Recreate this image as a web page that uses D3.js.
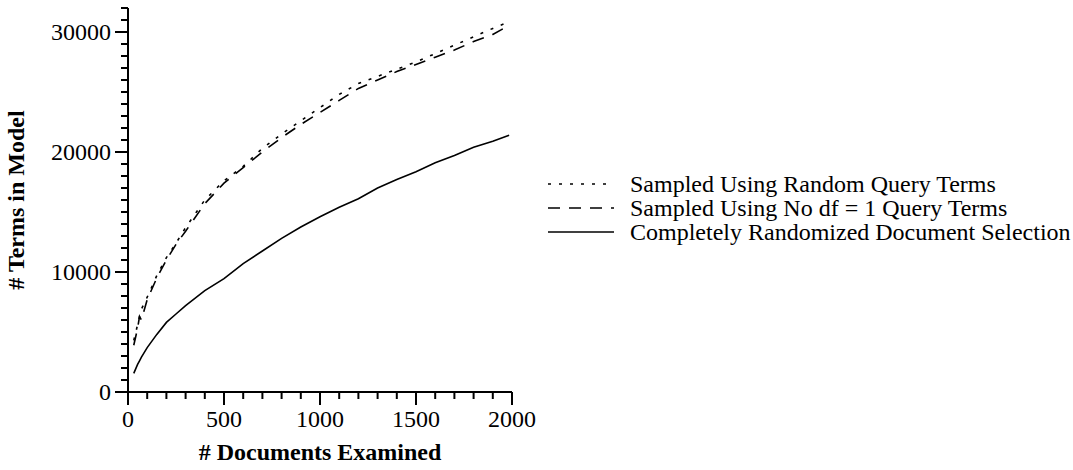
<!DOCTYPE html>
<html lang="en">
<head>
    <meta charset="utf-8">
    <title>Terms in model vs documents examined</title>
    <style>
        body {
            margin: 0;
            background: #fff;
        }

        svg text {
            font-family: "Liberation Serif", "Times New Roman", serif;
            fill: #000;
        }

        .tk {
            stroke: #000;
            stroke-width: 2px;
        }

        .series {
            fill: none;
            stroke: #000;
            stroke-width: 1.6px;
        }
    </style>
</head>
<body>
<div id="chart"></div>
<script src="https://d3js.org/d3.v7.min.js"></script>
<script>
    // documents examined
    const docs = [30, 50, 60, 70, 100, 150, 200, 250, 300, 400, 500, 600, 700, 800, 900, 1000,
        1100, 1200, 1300, 1400, 1500, 1600, 1700, 1800, 1900, 1985];
    // terms in model, one list per series
    const randomTerms = [4300, 5600, 6300, 6900, 7900, 9700, 11200, 12400, 13700, 16000, 17600, 18800,
        20300, 21500, 22600, 23700, 24800, 25700, 26300, 26900, 27500, 28200, 28900, 29600, 30300, 30850];
    const noDf1Terms = [3900, 5300, 6300, 6000, 7700, 9500, 11000, 12300, 13400, 15700, 17400, 18700,
        20000, 21200, 22300, 23300, 24300, 25300, 26000, 26700, 27300, 27900, 28500, 29200, 29800, 30550];
    const randomDocs = [1550, 2300, 2600, 2900, 3700, 4800, 5800, 6500, 7200, 8450, 9450, 10700,
        11750, 12800, 13750, 14600, 15400, 16100, 17000, 17700, 18350, 19100, 19700, 20400, 20900, 21400];

    const seriesNames = ["Sampled Using Random Query Terms", "Sampled Using No df = 1 Query Terms",
        "Completely Randomized Document Selection"];
    const seriesDash = ["3,8", "12,9", null];
    const xTicks = [0, 500, 1000, 1500, 2000];
    const yTicks = [0, 10000, 20000, 30000];
    const xMinor = d3.range(0, 2001, 100);
    const yMinor = d3.range(0, 32001, 1000);

    const width = 1073;
    const height = 470;

    const svg = d3.select("#chart").append("svg")
        .attr("width", width)
        .attr("height", height);

    const x = d3.scaleLinear().domain([0, 2000]).range([128, 512]);
    const y = d3.scaleLinear().domain([0, 32000]).range([392, 8]);
    const fmt = d3.format("d");

    const line = d3.line()
        .x(d => x(d[0]))
        .y(d => y(d[1]));

    const allSeries = [randomTerms, noDf1Terms, randomDocs];
    allSeries.forEach(function (vals, i) {
        svg.append("path")
            .attr("class", "series")
            .attr("stroke-dasharray", seriesDash[i])
            .attr("d", line(docs.map((d, j) => [d, vals[j]])));
    });

    const axes = svg.append("g");
    // axis lines
    axes.append("line").attr("class", "tk")
        .attr("x1", x(0)).attr("x2", x(2000)).attr("y1", y(0)).attr("y2", y(0));
    axes.append("line").attr("class", "tk")
        .attr("x1", x(0)).attr("x2", x(0)).attr("y1", y(0) + 13).attr("y2", y(32000));

    // minor ticks, pointing outward
    xMinor.forEach(function (d) {
        axes.append("line").attr("class", "tk")
            .attr("x1", x(d)).attr("x2", x(d))
            .attr("y1", y(0)).attr("y2", y(0) + 7);
    });
    yMinor.forEach(function (d) {
        axes.append("line").attr("class", "tk")
            .attr("x1", x(0) - 7).attr("x2", x(0))
            .attr("y1", y(d)).attr("y2", y(d));
    });

    // major ticks with labels
    xTicks.forEach(function (d) {
        axes.append("line").attr("class", "tk")
            .attr("x1", x(d)).attr("x2", x(d))
            .attr("y1", y(0)).attr("y2", y(0) + 13);
        axes.append("text")
            .attr("x", x(d))
            .attr("y", 427)
            .attr("text-anchor", "middle")
            .attr("font-size", 24)
            .text(fmt(d));
    });
    yTicks.forEach(function (d) {
        axes.append("line").attr("class", "tk")
            .attr("x1", x(0) - 13).attr("x2", x(0))
            .attr("y1", y(d)).attr("y2", y(d));
        axes.append("text")
            .attr("x", x(0) - 17)
            .attr("y", y(d))
            .attr("dy", "0.33em")
            .attr("text-anchor", "end")
            .attr("font-size", 24)
            .text(fmt(d));
    });

    svg.append("text")
        .attr("x", x(1000))
        .attr("y", 460)
        .attr("text-anchor", "middle")
        .attr("font-size", 24)
        .attr("font-weight", "bold")
        .text("# Documents Examined");

    svg.append("text")
        .attr("transform", "translate(24," + y(16000) + ") rotate(-90)")
        .attr("text-anchor", "middle")
        .attr("font-size", 24)
        .attr("font-weight", "bold")
        .text("# Terms in Model");

    const legend = svg.append("g");
    seriesNames.forEach(function (name, i) {
        const ly = 184 + i * 24;
        legend.append("line")
            .attr("class", "series")
            .attr("x1", 548).attr("x2", 614)
            .attr("y1", ly).attr("y2", ly)
            .attr("stroke-dasharray", seriesDash[i]);
        legend.append("text")
            .attr("x", 630)
            .attr("y", ly)
            .attr("dy", "0.33em")
            .attr("font-size", 24)
            .text(name);
    });
</script>
</body>
</html>
